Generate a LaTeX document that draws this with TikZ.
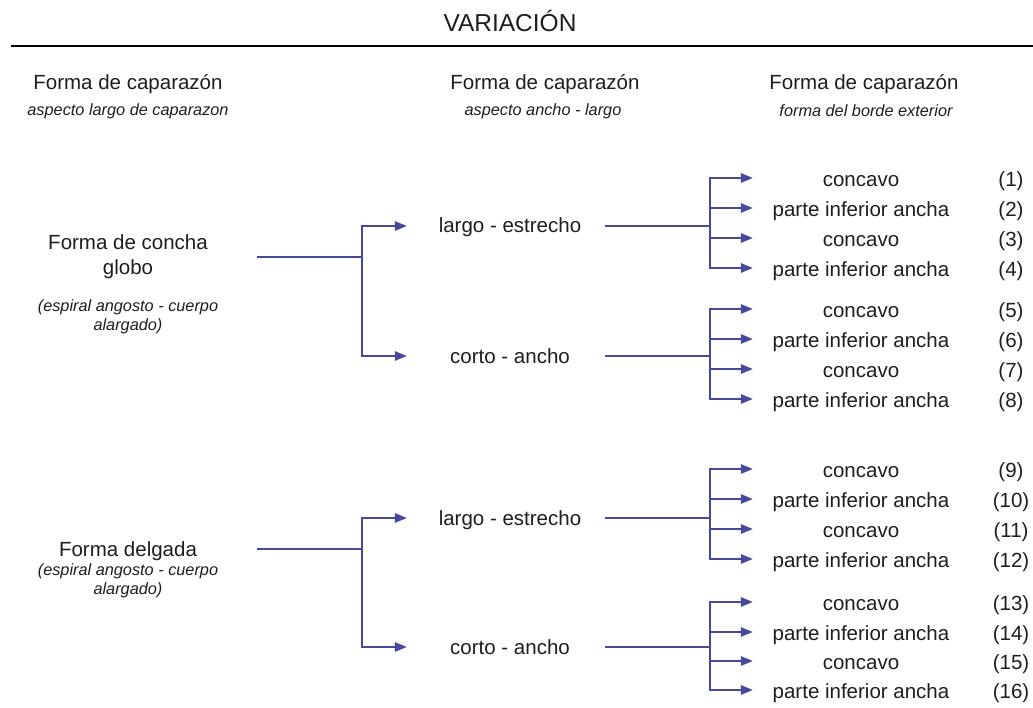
\documentclass[tikz,border=0pt]{standalone}
\usepackage{fontspec}
\setmainfont{Liberation Sans}
\usetikzlibrary{arrows.meta}
\definecolor{linkblue}{RGB}{72,72,158}
\definecolor{txt}{RGB}{30,30,30}
\tikzset{
  title/.style={font=\fontsize{24.5}{28}\selectfont, text=txt},
  head/.style={font=\fontsize{20.5}{24}\selectfont, text=txt},
  sub/.style={font=\fontsize{16.3}{19}\selectfont\itshape, text=txt},
  main/.style={font=\fontsize{20.5}{25}\selectfont, text=txt, align=center, inner sep=0pt},
  mid/.style={font=\fontsize{20.5}{25}\selectfont, text=txt, inner sep=0pt, minimum width=190pt, text height=15pt, text depth=1pt},
  leaf/.style={font=\fontsize{20.5}{25}\selectfont, text=txt, inner sep=0pt, minimum width=216pt, text height=17pt, text depth=0.5pt},
  num/.style={font=\fontsize{20.5}{25}\selectfont, text=txt, inner sep=0pt, text height=17pt, text depth=0.5pt},
  link/.style={draw=linkblue, line width=1.4pt},
  arr/.style={link, -{Triangle[length=12pt,width=9.5pt]}},
}
\begin{document}
\begin{tikzpicture}[x=1pt,y=-1pt]
\fill[white] (0,0) rectangle (1033,708);
\useasboundingbox (0,0) rectangle (1033,708);
% title and rule
\node[title] (ttl) at (510,21) {VARIACIÓN};
\coordinate (r0) at (11,46);
\coordinate (r1) at (1033,46);
\draw[line width=1.8pt, black] (r0) -- (r1);
% column headers
\node[head] (h1) at (128,84) {Forma de caparazón};
\node[sub]  (s1) at (128,111) {aspecto largo de caparazon};
\node[head] (h2) at (545,84) {Forma de caparazón};
\node[sub]  (s2) at (543,111) {aspecto ancho - largo};
\node[head] (h3) at (864,84) {Forma de caparazón};
\node[sub]  (s3) at (866,111) {forma del borde exterior};
% left nodes
\node[main, minimum width=258pt] (l1) at (128,257) {Forma de concha\\globo};
\node[sub, align=center, inner sep=0pt] (d1) at (128,317) {(espiral angosto - cuerpo\\alargado)};
\node[main, minimum width=258pt, text height=15pt, text depth=1pt] (l2) at (128,549) {Forma delgada};
\node[sub, align=center, inner sep=0pt] (d2) at (128,581) {(espiral angosto - cuerpo\\alargado)};
% middle nodes
\node[mid] (m1) at (510,226) {largo - estrecho};
\node[mid] (m2) at (510,356) {corto - ancho};
\node[mid] (m3) at (510,518) {largo - estrecho};
\node[mid] (m4) at (510,647) {corto - ancho};
% branch points
\coordinate (b1) at (362,257);
\coordinate (b2) at (362,549);
\draw[link] (l1.east) -- (b1);
\draw[link] (l2.east) -- (b2);
\draw[arr, shorten >=8pt] (b1) |- (m1.west);
\draw[arr, shorten >=8pt] (b1) |- (m2.west);
\draw[arr, shorten >=8pt] (b2) |- (m3.west);
\draw[arr, shorten >=8pt] (b2) |- (m4.west);
% leaves
\foreach \k/\y/\t in {1/178/concavo,2/208/parte inferior ancha,3/238/concavo,4/268/parte inferior ancha,
                     5/309/concavo,6/339/parte inferior ancha,7/369/concavo,8/399/parte inferior ancha,
                     9/469/concavo,10/499/parte inferior ancha,11/529/concavo,12/559/parte inferior ancha,
                     13/602/concavo,14/632/parte inferior ancha,15/661/concavo,16/690/parte inferior ancha}{
  \node[leaf] (f\k) at (861,\y) {\t};
  \node[num] (n\k) at (1011,\y) {(\k)};
}
\foreach \m/\a/\b/\c/\d in {1/1/2/3/4,2/5/6/7/8,3/9/10/11/12,4/13/14/15/16}{
  \coordinate (c\m) at (m\m.east -| 710,0);
  \draw[link] (m\m.east) -- (c\m);
  \draw[arr] (c\m) |- (f\a.west);
  \draw[arr] (c\m) |- (f\b.west);
  \draw[arr] (c\m) |- (f\c.west);
  \draw[arr] (c\m) |- (f\d.west);
}
\end{tikzpicture}
\end{document}
